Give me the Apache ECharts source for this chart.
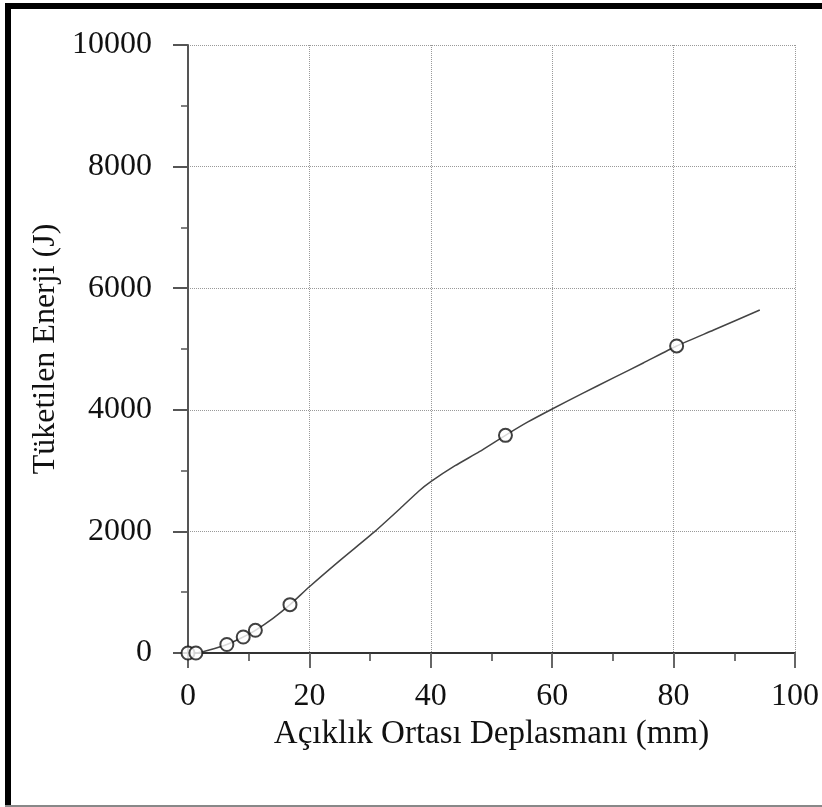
<!DOCTYPE html>
<html>
<head>
<meta charset="utf-8">
<script src="https://cdn.jsdelivr.net/npm/echarts@6/dist/echarts.min.js"></script>
<style>
html,body{margin:0;padding:0;background:#fff;}
#c{width:822px;height:807px;}
</style>
</head>
<body>
<div id="c"></div>
<script>
// Measured points (markers)
const markerX = [0, 1.3, 6.4, 9.1, 11.1, 16.8, 52.3, 80.5];
const markerY = [0, 0, 140, 263, 373, 795, 3580, 5050];
// Continuous curve
const curveX = [0, 1.3, 3.5, 6.4, 9.1, 11.1, 14, 16.8, 20, 25, 30.8, 35, 38, 40, 44, 48, 52.3, 56, 60, 65, 70, 75, 80.5, 86.6, 94.2];
const curveY = [0, 0, 50, 140, 263, 373, 570, 795, 1090, 1520, 2000, 2380, 2660, 2818, 3080, 3311, 3580, 3800, 4013, 4270, 4520, 4770, 5050, 5312, 5641];
const xTitle = 'Açıklık Ortası Deplasmanı (mm)';
const yTitle = 'Tüketilen Enerji (J)';

const FONT = "'Liberation Serif', 'Times New Roman', serif";
const chart = echarts.init(document.getElementById('c'), null, {renderer: 'canvas'});
const lineData = curveX.map((x, i) => [x, curveY[i]]);
const markData = markerX.map((x, i) => [x, markerY[i]]);

chart.setOption({
  backgroundColor: '#fff',
  animation: false,
  grid: {left: 188, right: 25, top: 45, bottom: 154, containLabel: false},
  xAxis: {
    type: 'value', min: 0, max: 100, interval: 20,
    name: xTitle, nameLocation: 'middle', nameGap: 58,
    nameTextStyle: {fontFamily: FONT, fontSize: 33, color: '#111'},
    axisLine: {show: true, onZero: false, lineStyle: {color: '#333', width: 2}},
    axisTick: {show: true, inside: false, length: 15, lineStyle: {color: '#666', width: 2}},
    minorTick: {show: true, splitNumber: 2, length: 8, lineStyle: {color: '#444', width: 1.5}},
    axisLabel: {fontFamily: FONT, fontSize: 32, color: '#111', margin: 28, formatter: v => String(v)},
    splitLine: {show: true, lineStyle: {color: '#999', width: 1, type: 'dotted'}}
  },
  yAxis: {
    type: 'value', min: 0, max: 10000, interval: 2000,
    name: yTitle, nameLocation: 'middle', nameGap: 122, nameRotate: 90,
    nameTextStyle: {fontFamily: FONT, fontSize: 32, color: '#111'},
    axisLine: {show: true, onZero: false, lineStyle: {color: '#555', width: 2}},
    axisTick: {show: true, inside: false, length: 15, lineStyle: {color: '#555', width: 2}},
    minorTick: {show: true, splitNumber: 2, length: 7, lineStyle: {color: '#555', width: 1.5}},
    axisLabel: {fontFamily: FONT, fontSize: 32, color: '#111', margin: 36, formatter: v => String(v)},
    splitLine: {show: true, lineStyle: {color: '#999', width: 1, type: 'dotted'}}
  },
  series: [
    {
      type: 'line', data: lineData, smooth: 0.2,
      showSymbol: false, symbol: 'none',
      lineStyle: {color: '#444', width: 1.5}, z: 3
    },
    {
      type: 'scatter', data: markData, clip: false,
      symbol: 'circle', symbolSize: 13,
      itemStyle: {color: '#fff', borderColor: '#111', borderWidth: 2}, z: 4
    }
  ],
  graphic: [
    {type: 'rect', shape: {x: 5, y: 3, width: 817, height: 6}, style: {fill: '#000'}, silent: true},
    {type: 'rect', shape: {x: 5, y: 3, width: 6, height: 804}, style: {fill: '#000'}, silent: true},
    {type: 'rect', shape: {x: 5, y: 805, width: 817, height: 2}, style: {fill: '#888'}, silent: true}
  ]
});
</script>
</body>
</html>
